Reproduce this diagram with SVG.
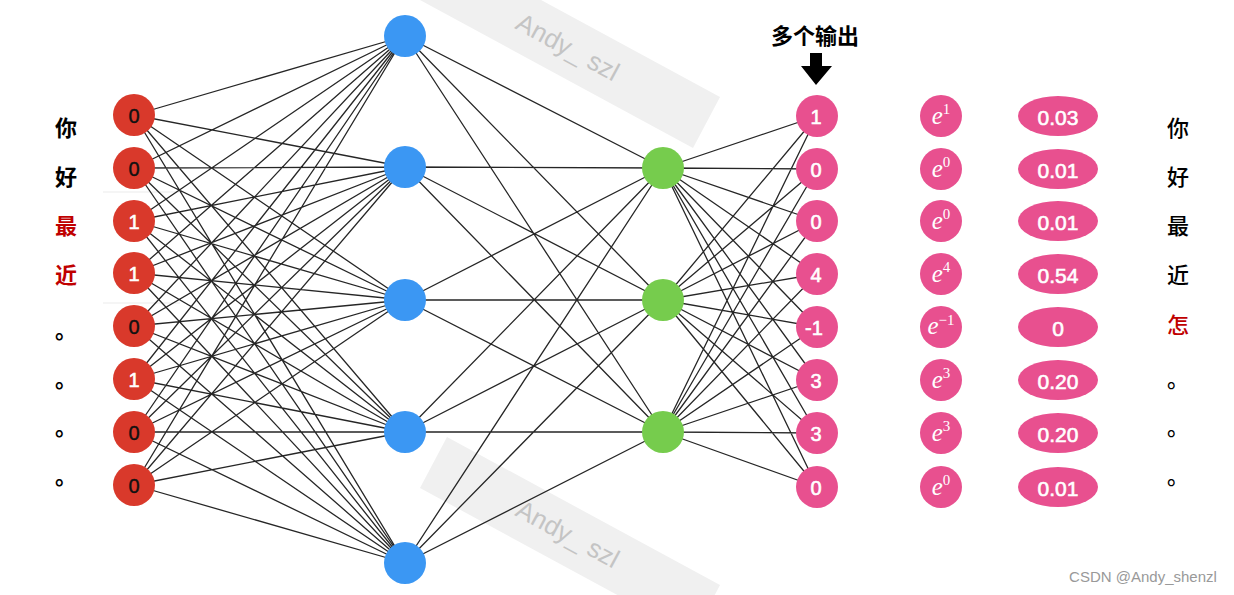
<svg xmlns="http://www.w3.org/2000/svg" width="1234" height="595" viewBox="0 0 1234 595">
<style>
.lbl{font-family:"Noto Sans CJK SC","Noto Sans",sans-serif;font-size:22px;text-anchor:middle}
.lb{font-weight:bold}
.rt{font-weight:500}
.red{fill:#c00000}
.num{font-family:"Liberation Sans",Arial,sans-serif;font-size:20px;text-anchor:middle;dominant-baseline:central}
.big{font-size:21px}
.wnum{fill:#fff;stroke:#fff;stroke-width:0.6}
.bnum{fill:#111;stroke:#111;stroke-width:0.4}
.exp{font-family:"Liberation Serif","Times New Roman",serif;fill:#fff;text-anchor:middle}
.ei{font-style:italic;font-size:25px}
.es{font-size:15px}
.wm{font-family:"Liberation Sans",Arial,sans-serif;font-size:26px;fill:#c4c4c4}
.edge{stroke:#262626;stroke-width:1.3;fill:none}
.rn{fill:#d9392b}
.bn{fill:#3b97f3}
.gn{fill:#76cc4d}
.pn{fill:#e8508f}
</style>
<rect width="1234" height="595" fill="#fff"/>
<g id="watermarks">
<polygon points="447,-51 720,97 693,148 420,0" fill="#f0f0f0"/>
<polygon points="447,437 720,585 693,636 420,488" fill="#f0f0f0"/>
<text class="wm" transform="translate(514,28) rotate(28.5)">Andy_ szl</text>
<text class="wm" transform="translate(514,515) rotate(28.5)">Andy_ szl</text>
<line x1="103" y1="192" x2="180" y2="192" stroke="#ebebeb" stroke-width="1"/>
<line x1="103" y1="303" x2="180" y2="303" stroke="#ebebeb" stroke-width="1"/>
</g>
<g id="connectors">
<path class="edge" d="M134 115L405 36M134 115L405 167M134 115L405 300M134 115L405 432M134 115L405 563M134 168L405 36M134 168L405 167M134 168L405 300M134 168L405 432M134 168L405 563M134 221L405 36M134 221L405 167M134 221L405 300M134 221L405 432M134 221L405 563M134 273L405 36M134 273L405 167M134 273L405 300M134 273L405 432M134 273L405 563M134 326L405 36M134 326L405 167M134 326L405 300M134 326L405 432M134 326L405 563M134 379L405 36M134 379L405 167M134 379L405 300M134 379L405 432M134 379L405 563M134 432L405 36M134 432L405 167M134 432L405 300M134 432L405 432M134 432L405 563M134 485L405 36M134 485L405 167M134 485L405 300M134 485L405 432M134 485L405 563"/>
<path class="edge" d="M405 36L663 168M405 36L663 300M405 36L663 432M405 167L663 168M405 167L663 300M405 167L663 432M405 300L663 168M405 300L663 300M405 300L663 432M405 432L663 168M405 432L663 300M405 432L663 432M405 563L663 168M405 563L663 300M405 563L663 432"/>
<path class="edge" d="M663 168L817 116M663 168L817 169M663 168L817 221M663 168L817 274M663 168L817 327M663 168L817 380M663 168L817 433M663 168L817 487M663 300L817 116M663 300L817 169M663 300L817 221M663 300L817 274M663 300L817 327M663 300L817 380M663 300L817 433M663 300L817 487M663 432L817 116M663 432L817 169M663 432L817 221M663 432L817 274M663 432L817 327M663 432L817 380M663 432L817 433M663 432L817 487"/>
</g>
<g id="left-text">
<text class="lbl lb" x="66" y="136">你</text>
<text class="lbl lb" x="66" y="185">好</text>
<text class="lbl lb red" x="66" y="234">最</text>
<text class="lbl lb red" x="66" y="283">近</text>
<text class="lbl lb" x="66" y="338">。</text>
<text class="lbl lb" x="66" y="387">。</text>
<text class="lbl lb" x="66" y="435">。</text>
<text class="lbl lb" x="66" y="484">。</text>
</g>
<g id="input-layer">
<g id="in1"><circle class="rn" cx="134" cy="115" r="21"/><text class="num bnum" x="134" y="116">0</text></g>
<g id="in2"><circle class="rn" cx="134" cy="168" r="21"/><text class="num bnum" x="134" y="169">0</text></g>
<g id="in3"><circle class="rn" cx="134" cy="221" r="21"/><text class="num wnum" x="134" y="222">1</text></g>
<g id="in4"><circle class="rn" cx="134" cy="273" r="21"/><text class="num wnum" x="134" y="274">1</text></g>
<g id="in5"><circle class="rn" cx="134" cy="326" r="21"/><text class="num bnum" x="134" y="327">0</text></g>
<g id="in6"><circle class="rn" cx="134" cy="379" r="21"/><text class="num wnum" x="134" y="380">1</text></g>
<g id="in7"><circle class="rn" cx="134" cy="432" r="21"/><text class="num bnum" x="134" y="433">0</text></g>
<g id="in8"><circle class="rn" cx="134" cy="485" r="21"/><text class="num bnum" x="134" y="486">0</text></g>
</g>
<g id="hidden1">
<g id="h1a"><circle class="bn" cx="405" cy="36" r="21"/></g>
<g id="h1b"><circle class="bn" cx="405" cy="167" r="21"/></g>
<g id="h1c"><circle class="bn" cx="405" cy="300" r="21"/></g>
<g id="h1d"><circle class="bn" cx="405" cy="432" r="21"/></g>
<g id="h1e"><circle class="bn" cx="405" cy="563" r="21"/></g>
</g>
<g id="hidden2">
<g id="h2a"><circle class="gn" cx="663" cy="168" r="21"/></g>
<g id="h2b"><circle class="gn" cx="663" cy="300" r="21"/></g>
<g id="h2c"><circle class="gn" cx="663" cy="432" r="21"/></g>
</g>
<g id="output-label">
<text x="815" y="44" style="font-family:'Noto Sans CJK SC','Noto Sans',sans-serif;font-size:22px;font-weight:bold;text-anchor:middle">多个输出</text>
<path d="M810 53H822V66H832L816 85L801 66H810Z" fill="#000"/>
</g>
<g id="output-layer">
<g id="o1"><circle class="pn" cx="817" cy="116" r="21"/><text class="num wnum" x="816" y="117">1</text></g>
<g id="o2"><circle class="pn" cx="817" cy="169" r="21"/><text class="num wnum" x="816" y="170">0</text></g>
<g id="o3"><circle class="pn" cx="817" cy="221" r="21"/><text class="num wnum" x="816" y="222">0</text></g>
<g id="o4"><circle class="pn" cx="817" cy="274" r="21"/><text class="num wnum" x="816" y="275">4</text></g>
<g id="o5"><circle class="pn" cx="817" cy="327" r="21"/><text class="num wnum" x="814" y="328">-1</text></g>
<g id="o6"><circle class="pn" cx="817" cy="380" r="21"/><text class="num wnum" x="816" y="381">3</text></g>
<g id="o7"><circle class="pn" cx="817" cy="433" r="21"/><text class="num wnum" x="816" y="434">3</text></g>
<g id="o8"><circle class="pn" cx="817" cy="487" r="21"/><text class="num wnum" x="816" y="488">0</text></g>
</g>
<g id="exp-layer">
<g id="e1"><circle class="pn" cx="941" cy="116" r="21"/><text class="exp" x="941" y="124"><tspan class="ei">e</tspan><tspan class="es" dy="-10">1</tspan></text></g>
<g id="e2"><circle class="pn" cx="941" cy="169" r="21"/><text class="exp" x="941" y="177"><tspan class="ei">e</tspan><tspan class="es" dy="-10">0</tspan></text></g>
<g id="e3"><circle class="pn" cx="941" cy="221" r="21"/><text class="exp" x="941" y="229"><tspan class="ei">e</tspan><tspan class="es" dy="-10">0</tspan></text></g>
<g id="e4"><circle class="pn" cx="941" cy="274" r="21"/><text class="exp" x="941" y="282"><tspan class="ei">e</tspan><tspan class="es" dy="-10">4</tspan></text></g>
<g id="e5"><circle class="pn" cx="941" cy="327" r="21"/><text class="exp" x="941" y="334"><tspan class="ei" font-size="21">e</tspan><tspan class="es" font-size="13" dy="-9">−1</tspan></text></g>
<g id="e6"><circle class="pn" cx="941" cy="380" r="21"/><text class="exp" x="941" y="388"><tspan class="ei">e</tspan><tspan class="es" dy="-10">3</tspan></text></g>
<g id="e7"><circle class="pn" cx="941" cy="433" r="21"/><text class="exp" x="941" y="441"><tspan class="ei">e</tspan><tspan class="es" dy="-10">3</tspan></text></g>
<g id="e8"><circle class="pn" cx="941" cy="487" r="21"/><text class="exp" x="941" y="495"><tspan class="ei">e</tspan><tspan class="es" dy="-10">0</tspan></text></g>
</g>
<g id="prob-layer">
<g id="p1"><ellipse class="pn" cx="1058" cy="116" rx="40" ry="20"/><text class="num big wnum" x="1058" y="117">0.03</text></g>
<g id="p2"><ellipse class="pn" cx="1058" cy="169" rx="40" ry="20"/><text class="num big wnum" x="1058" y="170">0.01</text></g>
<g id="p3"><ellipse class="pn" cx="1058" cy="221" rx="40" ry="20"/><text class="num big wnum" x="1058" y="222">0.01</text></g>
<g id="p4"><ellipse class="pn" cx="1058" cy="274" rx="40" ry="20"/><text class="num big wnum" x="1058" y="275">0.54</text></g>
<g id="p5"><ellipse class="pn" cx="1058" cy="327" rx="40" ry="20"/><text class="num big wnum" x="1058" y="328">0</text></g>
<g id="p6"><ellipse class="pn" cx="1058" cy="380" rx="40" ry="20"/><text class="num big wnum" x="1058" y="381">0.20</text></g>
<g id="p7"><ellipse class="pn" cx="1058" cy="433" rx="40" ry="20"/><text class="num big wnum" x="1058" y="434">0.20</text></g>
<g id="p8"><ellipse class="pn" cx="1058" cy="487" rx="40" ry="20"/><text class="num big wnum" x="1058" y="488">0.01</text></g>
</g>
<g id="right-text">
<text class="lbl rt" x="1178" y="136">你</text>
<text class="lbl rt" x="1178" y="185">好</text>
<text class="lbl rt" x="1178" y="234">最</text>
<text class="lbl rt" x="1178" y="283">近</text>
<text class="lbl rt red" x="1178" y="333">怎</text>
<text class="lbl rt" x="1178" y="387">。</text>
<text class="lbl rt" x="1178" y="435">。</text>
<text class="lbl rt" x="1178" y="484">。</text>
</g>
<text x="1143" y="582" style="font-family:'Liberation Sans',Arial,sans-serif;font-size:15px;fill:#999;text-anchor:middle">CSDN @Andy_shenzl</text>
</svg>
